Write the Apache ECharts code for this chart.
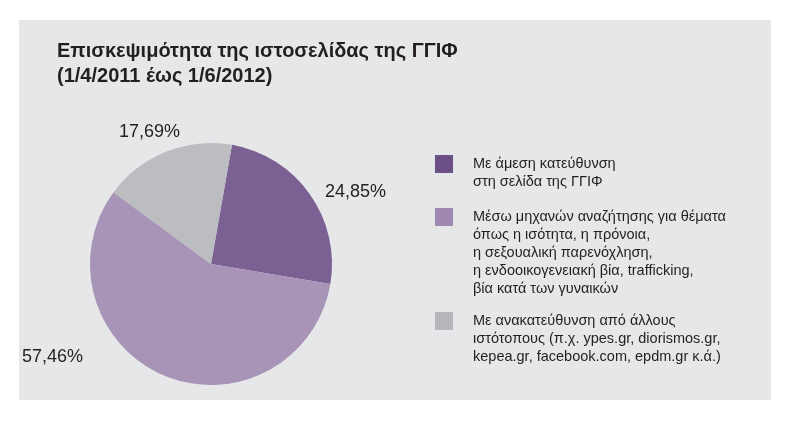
<!DOCTYPE html>
<html>
<head>
<meta charset="utf-8">
<script src="https://cdn.jsdelivr.net/npm/echarts@6/dist/echarts.min.js"></script>
<style>
  html, body { margin: 0; padding: 0; background: #fff; }
  #chart { width: 792px; height: 436px; }
</style>
</head>
<body>
<div id="chart"></div>
<script>
// categories (legend texts) and values
var categories = [
  'Με άμεση κατεύθυνση\nστη σελίδα της ΓΓΙΦ',
  'Μέσω μηχανών αναζήτησης για θέματα\nόπως η ισότητα, η πρόνοια,\nη σεξουαλική παρενόχληση,\nη ενδοοικογενειακή βία, trafficking,\nβία κατά των γυναικών',
  'Με ανακατεύθυνση από άλλους\nιστότοπους (π.χ. ypes.gr, diorismos.gr,\nkepea.gr, facebook.com, epdm.gr κ.ά.)'
]
var values = [24.85, 57.46, 17.69]
var valueLabels = ['24,85%', '57,46%', '17,69%']

var colors = ['#7b6093', '#a894b7', '#bcbdc1']
var legendColors = ['#6e5088', '#9f89b1', '#b6b7bb']
// where the percent labels sit (left edge, middle)
var labelPos = [[325, 192], [22, 357], [119, 132]]
// legend icon tops
var legendTops = [155, 208, 312]

var fontFamily = '"Liberation Sans", Arial, Helvetica, sans-serif'
var lineH = 18

var chart = echarts.init(document.getElementById('chart'))

// legend text is centred on the icon, so pad the top with blank lines
// to make the first line sit beside the square
var legends = categories.map(function (name, i) {
  var n = name.split('\n').length
  var blockH = (2 * n - 1) * lineH
  return {
    show: true,
    orient: 'vertical',
    left: 435,
    top: legendTops[i] + 9 - blockH / 2,
    padding: 0,
    itemWidth: 18,
    itemHeight: 18,
    selectedMode: false,
    icon: 'rect',
    formatter: function (nm) {
      return new Array(n).join('\n') + nm
    },
    data: [{
      name: name,
      itemStyle: { color: legendColors[i] },
      textStyle: {
        padding: [0, 0, 0, 15],
        lineHeight: lineH,
        fontSize: 14.5,
        color: '#231f20',
        fontFamily: fontFamily
      }
    }]
  }
})

var option = {
  backgroundColor: '#ffffff',
  animation: false,
  graphic: [{
    type: 'rect',
    z: -10,
    shape: { x: 19, y: 20, width: 752, height: 380 },
    style: { fill: '#e6e7e8' }
  }],
  title: {
    text: 'Επισκεψιμότητα της ιστοσελίδας της ΓΓΙΦ\n(1/4/2011 έως 1/6/2012)',
    left: 57,
    top: 39,
    padding: 0,
    textStyle: {
      fontFamily: fontFamily,
      fontWeight: 'bold',
      fontSize: 20,
      lineHeight: 25,
      color: '#231f20'
    }
  },
  legend: legends,
  series: [{
    type: 'pie',
    center: [211, 264],
    radius: 121,
    startAngle: 80,
    clockwise: true,
    silent: true,
    label: {
      show: true,
      position: 'outside',
      fontFamily: fontFamily,
      fontSize: 18,
      color: '#231f20',
      formatter: function (p) { return valueLabels[p.dataIndex] }
    },
    labelLine: { show: false },
    labelLayout: function (p) {
      return {
        x: labelPos[p.dataIndex][0],
        y: labelPos[p.dataIndex][1],
        align: 'left',
        verticalAlign: 'middle'
      }
    },
    itemStyle: { borderWidth: 0 },
    data: categories.map(function (c, i) {
      return { name: c, value: values[i], itemStyle: { color: colors[i] } }
    })
  }]
}

chart.setOption(option)
</script>
</body>
</html>
